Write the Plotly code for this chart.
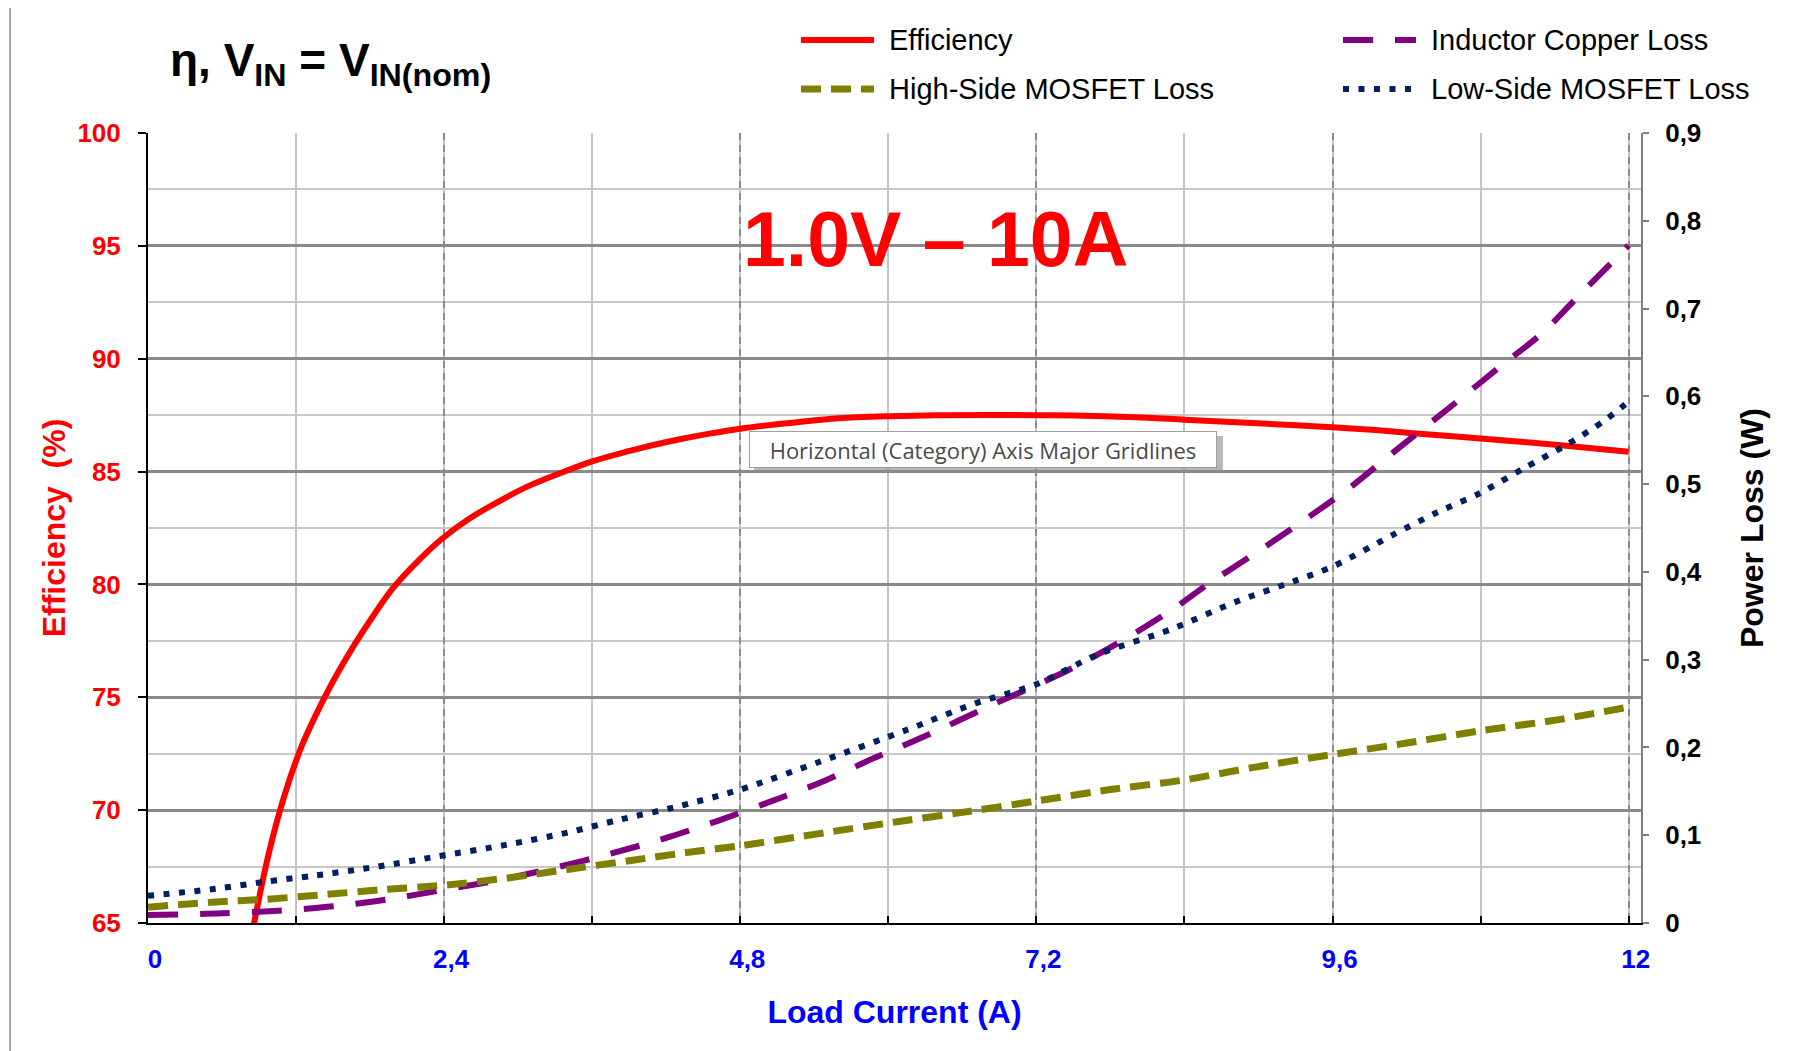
import plotly.graph_objects as go

# ---------------- data ----------------
eff_x = [0.80, 0.86, 0.95, 1.05, 1.15, 1.25, 1.35, 1.45, 1.55, 1.67, 1.80, 1.98, 2.20, 2.40,
         2.60, 2.90, 3.10, 3.35, 3.60, 4.00, 4.30, 4.55, 4.80, 5.20, 5.60, 6.00, 6.40, 7.20,
         7.50, 8.00, 8.40, 8.95, 9.60, 9.95, 10.25, 10.80, 11.45, 12.00]
eff_y = [63.4, 65.0, 67.4, 69.6, 71.4, 72.9, 74.1, 75.2, 76.2, 77.3, 78.4, 79.8, 81.1, 82.1,
         82.9, 83.85, 84.4, 84.95, 85.45, 86.05, 86.42, 86.68, 86.9, 87.15, 87.36, 87.45, 87.5, 87.5,
         87.48, 87.41, 87.3, 87.15, 86.96, 86.84, 86.7, 86.47, 86.17, 85.88]

ind_x = [0.0, 0.6, 1.06, 1.5, 1.95, 2.4, 2.85, 3.3, 3.75, 4.2, 4.63, 5.0, 5.45, 5.87, 6.3,
         6.85, 7.2, 7.5, 7.9, 8.3, 8.6, 8.95, 9.35, 9.75, 10.1, 10.6, 10.95, 11.3, 11.55, 12.0]
ind_y = [0.009, 0.011, 0.014, 0.019, 0.027, 0.038, 0.049, 0.063, 0.079, 0.097, 0.117, 0.136,
         0.160, 0.187, 0.213, 0.249, 0.271, 0.291, 0.322, 0.357, 0.387, 0.419, 0.457, 0.497,
         0.537, 0.593, 0.633, 0.672, 0.708, 0.772]

hs_x = [0.0, 0.55, 0.95, 1.4, 1.9, 2.4, 2.9, 3.4, 3.9, 4.35, 4.8, 5.4, 6.1, 6.6, 7.2, 7.8,
        8.4, 8.95, 9.6, 10.2, 10.8, 11.4, 12.0]
hs_y = [0.018, 0.024, 0.027, 0.032, 0.038, 0.043, 0.051, 0.061, 0.071, 0.080, 0.088, 0.101,
        0.116, 0.126, 0.139, 0.152, 0.163, 0.177, 0.192, 0.205, 0.219, 0.231, 0.246]

ls_x = [0.0, 0.55, 0.95, 1.35, 1.85, 2.35, 2.9, 3.4, 3.8, 4.3, 4.8, 5.45, 6.15, 6.7, 7.2,
        7.7, 8.3, 8.8, 9.3, 9.6, 10.1, 10.45, 10.8, 11.15, 11.5, 11.8, 12.0]
ls_y = [0.031, 0.039, 0.047, 0.054, 0.064, 0.076, 0.089, 0.103, 0.117, 0.133, 0.152, 0.184,
        0.220, 0.250, 0.272, 0.306, 0.335, 0.365, 0.390, 0.406, 0.443, 0.468, 0.490, 0.518,
        0.545, 0.572, 0.594]

x_ticks = [0, 2.4, 4.8, 7.2, 9.6, 12]
series_names = ["Efficiency", "Inductor Copper Loss", "High-Side MOSFET Loss", "Low-Side MOSFET Loss"]

# ---------------- styles ----------------
RED = "#FF0000"
PURPLE = "#800080"
OLIVE = "#808000"
NAVY = "#002060"
BLUE = "#0000FF"
FONT = "Liberation Sans, Arial, sans-serif"

OFF = 8  # page body margin
W, H = 1812, 1051
L = 148 - OFF
T = 133 - OFF
R = W - (1641 - OFF)
B = H - (923 - OFF)
PW, PH = W - L - R, H - T - B


def px(x):  # screen x (reference) -> paper
    return (x - OFF - L) / PW


def py(y):  # screen y (reference) -> paper
    return (H - B - (y - OFF)) / PH


styles = [
    dict(color=RED, width=6, dash="solid"),
    dict(color=PURPLE, width=6, dash="30px,22px"),
    dict(color=OLIVE, width=7, dash="20px,10px"),
    dict(color=NAVY, width=6, dash="6px,9.5px"),
]

fig = go.Figure()
fig.add_trace(go.Scatter(x=eff_x, y=eff_y, mode="lines", name=series_names[0],
                         line=dict(**styles[0], shape="spline", smoothing=0.8), showlegend=False))
fig.add_trace(go.Scatter(x=ind_x, y=ind_y, mode="lines", name=series_names[1], yaxis="y2",
                         line=dict(**styles[1], shape="spline", smoothing=0.8), showlegend=False))
fig.add_trace(go.Scatter(x=hs_x, y=hs_y, mode="lines", name=series_names[2], yaxis="y2",
                         line=dict(**styles[2], shape="spline", smoothing=0.8), showlegend=False))
fig.add_trace(go.Scatter(x=ls_x, y=ls_y, mode="lines", name=series_names[3], yaxis="y2",
                         line=dict(**styles[3], shape="spline", smoothing=0.8), showlegend=False))

shapes = []
annotations = []

# outer frame (top and left border)
shapes.append(dict(type="line", xref="paper", yref="paper", x0=px(10), x1=px(W + 20), y0=py(7), y1=py(7),
                   line=dict(color="#a6a6a6", width=2)))
shapes.append(dict(type="line", xref="paper", yref="paper", x0=px(10), x1=px(10), y0=py(7), y1=py(H + 20),
                   line=dict(color="#a6a6a6", width=2)))

# manual legend (two columns)
leg_pos = [(801, 40), (1343, 40), (801, 89), (1343, 89)]
for (lx, ly), name, st in zip(leg_pos, series_names, styles):
    shapes.append(dict(type="line", xref="paper", yref="paper", x0=px(lx), x1=px(lx + 73),
                       y0=py(ly), y1=py(ly), line=dict(color=st["color"], width=st["width"], dash=st["dash"])))
    annotations.append(dict(text=name, xref="paper", yref="paper", x=px(lx + 86), y=py(ly),
                            xanchor="left", yanchor="middle", showarrow=False,
                            font=dict(family=FONT, size=29, color="#000000")))

# chart title
annotations.append(dict(text="<b>η, V<sub>IN</sub> = V<sub>IN(nom)</sub></b>", xref="paper", yref="paper",
                        x=px(168), y=py(64), xanchor="left", yanchor="middle", showarrow=False,
                        font=dict(family=FONT, size=46, color="#000000")))

# big red label
annotations.append(dict(text="<b>1.0V – 10A</b>", xref="paper", yref="paper",
                        x=px(935), y=py(239), xanchor="center", yanchor="middle", showarrow=False,
                        font=dict(family=FONT, size=77, color=RED)))

# tooltip box with shadow
shapes.append(dict(type="rect", xref="paper", yref="paper", x0=px(754), x1=px(1223), y0=py(436), y1=py(473),
                   fillcolor="#8a8a8a", line=dict(width=0), opacity=0.6))
annotations.append(dict(text="Horizontal (Category) Axis Major Gridlines", xref="paper", yref="paper",
                        x=px(983), y=py(449.5), xanchor="center", yanchor="middle", showarrow=False,
                        width=464, height=33, bgcolor="#FFFFFF", bordercolor="#a0a0a0", borderwidth=1,
                        borderpad=1, font=dict(family="Open Sans, sans-serif", size=22, color="#4a4a4a")))

fig.update_layout(
    width=W, height=H,
    margin=dict(l=L, r=R, t=T, b=B, autoexpand=False),
    paper_bgcolor="#FFFFFF", plot_bgcolor="#FFFFFF",
    separators=", ",
    showlegend=False,
    shapes=shapes, annotations=annotations,
    font=dict(family=FONT),
    xaxis=dict(
        range=[0, 12.1], tickmode="array", tickvals=x_ticks,
        ticktext=[f"{v:g}".replace(".", ",") for v in x_ticks],
        showline=True, linecolor="#000000", linewidth=2,
        ticks="inside", ticklen=7, tickwidth=2, tickcolor="#000000",
        showgrid=True, gridcolor="#8c8c8c", gridwidth=2, griddash="7px,5px",
        minor=dict(tickmode="linear", tick0=0, dtick=1.2, ticks="inside", ticklen=7, tickwidth=2,
                   tickcolor="#000000", showgrid=True, gridcolor="#c4c4c4", gridwidth=1.5, griddash="solid"),
        tickfont=dict(family=FONT, size=26, color=BLUE, weight="bold"),
        ticklabelshift=7, ticklabelstandoff=12,
        title=dict(text="<b>Load Current (A)</b>",
                   font=dict(family=FONT, size=32, color=BLUE), standoff=27),
        zeroline=False, automargin=False,
    ),
    yaxis=dict(
        range=[65, 100], tickmode="linear", tick0=65, dtick=5,
        showline=True, linecolor="#000000", linewidth=2,
        ticks="outside", ticklen=8, tickwidth=2, tickcolor="#000000",
        showgrid=True, gridcolor="#8a8a8a", gridwidth=3,
        minor=dict(tickmode="linear", tick0=65, dtick=2.5, showgrid=True, gridcolor="#c8c8c8", gridwidth=1.5),
        tickfont=dict(family=FONT, size=26, color=RED, weight="bold"),
        ticklabelstandoff=12,
        title=dict(text="<b>Efficiency  (%)</b>", font=dict(family=FONT, size=32, color=RED), standoff=2),
        zeroline=False, automargin=False,
    ),
    yaxis2=dict(
        range=[0, 0.9], tickmode="linear", tick0=0, dtick=0.1, overlaying="y", side="right",
        showline=True, linecolor="#7f7f7f", linewidth=2,
        ticks="outside", ticklen=6, tickwidth=1.5, tickcolor="#7f7f7f",
        showgrid=False, zeroline=False,
        tickfont=dict(family=FONT, size=26, color="#000000", weight="bold"),
        ticklabelstandoff=11,
        title=dict(text="<b>Power Loss (W)</b>", font=dict(family=FONT, size=32, color="#000000"), standoff=40),
        automargin=False,
    ),
)

fig.write_html("out.html")
